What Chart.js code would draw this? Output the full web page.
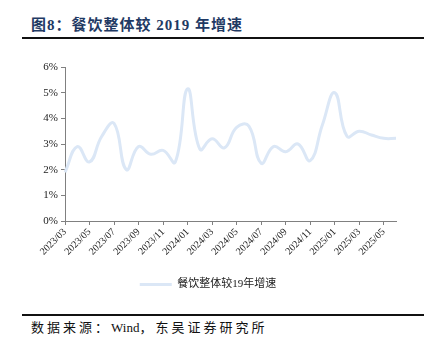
<!DOCTYPE html>
<html>
<head>
<meta charset="utf-8">
<script src="https://cdn.jsdelivr.net/npm/chart.js@4/dist/chart.umd.min.js"></script>
<style>
  body { margin: 0; background: #fff; width: 436px; height: 351px; position: relative; overflow: hidden; }
  #title { position: absolute; left: 31px; top: 13px; font: bold 15px "Liberation Serif", "Noto Sans CJK SC", serif; color: #1f3a64; letter-spacing: 1px; }
  .rule { position: absolute; left: 22px; width: 402px; height: 2px; background: #111; }
  #foot { position: absolute; left: 31px; top: 317px; font: 13px "Liberation Serif", "Noto Sans CJK SC", serif; color: #111; white-space: nowrap; }
  #foot .cjk { letter-spacing: 3px; }
  #box { position: absolute; left: 0; top: 50px; width: 436px; height: 250px; }
</style>
</head>
<body>
<div id="title">图8：餐饮整体较 2019 年增速</div>
<div class="rule" style="top:37px"></div>
<div id="box"><canvas id="chartLineCanvas"></canvas></div>
<div class="rule" style="top:314px"></div>
<div id="foot"><span class="cjk">数据来源：</span>Wind<span class="cjk">，东吴证券研究所</span></div>
<script>
// monthly categories 2023/03 - 2025/06
const months = [
    '2023/03', '2023/04', '2023/05', '2023/06', '2023/07', '2023/08', '2023/09',
    '2023/10', '2023/11', '2023/12', '2024/01', '2024/02', '2024/03', '2024/04',
    '2024/05', '2024/06', '2024/07', '2024/08', '2024/09', '2024/10', '2024/11',
    '2024/12', '2025/01', '2025/02', '2025/03', '2025/04', '2025/05', '2025/06'
];
// growth vs 2019, in %
const growthVs2019 = [
    1.9, 2.9, 2.3, 3.3, 3.8, 2.0, 2.9,
    2.6, 2.75, 2.3, 5.15, 2.8, 3.2, 2.85,
    3.65, 3.7, 2.25, 2.9, 2.7, 3.0, 2.35,
    3.75, 5.0, 3.3, 3.5, 3.35, 3.22, 3.22
];
const yTicks = [0, 1, 2, 3, 4, 5, 6];

document.addEventListener('DOMContentLoaded', function () {
    const ctx = document.getElementById('chartLineCanvas').getContext('2d');
    const axisFont = { family: '"Liberation Serif", "Times New Roman", serif', size: 11 };

    new Chart(ctx, {
        type: 'line',
        data: {
            labels: months,
            datasets: [{
                label: '餐饮整体较19年增速',
                data: growthVs2019,
                borderColor: '#dbe7f6',
                backgroundColor: '#dbe7f6',
                borderWidth: 3,
                pointRadius: 0,
                tension: 0.45,
            }],
        },
        options: {
            responsive: true,
            maintainAspectRatio: false,
            animation: false,
            layout: {
                padding: { left: 20, right: 40, top: 17, bottom: 0 }
            },
            scales: {
                x: {
                    offset: false,
                    afterFit: function (scale) { scale.height = 52; },
                    grid: { display: true, drawOnChartArea: false, drawTicks: true, tickLength: 4, color: '#808080' },
                    border: { color: '#808080', width: 1 },
                    ticks: {
                        autoSkip: false,
                        maxRotation: 45,
                        minRotation: 45,
                        padding: 1,
                        color: '#222',
                        font: { family: axisFont.family, size: 10 },
                        callback: function (value, index) {
                            return index % 2 === 0 ? months[index] : null;
                        }
                    }
                },
                y: {
                    min: 0,
                    max: 6,
                    afterFit: function (scale) { scale.width = 45; },
                    afterBuildTicks: function (scale) {
                        scale.ticks = yTicks.map(function (v) { return { value: v }; });
                    },
                    grid: { display: true, drawOnChartArea: false, drawTicks: true, tickLength: 4, color: '#808080' },
                    border: { color: '#808080', width: 1 },
                    ticks: {
                        color: '#222',
                        padding: 3,
                        font: axisFont,
                        callback: function (value) { return value + '%'; }
                    }
                }
            },
            plugins: {
                legend: {
                    position: 'bottom',
                    labels: {
                        usePointStyle: true,
                        pointStyle: 'line',
                        pointStyleWidth: 32,
                        color: '#222',
                        padding: 6,
                        font: { family: '"Liberation Serif", "Noto Sans CJK SC", serif', size: 11 }
                    }
                },
                tooltip: { enabled: false }
            },
        },
    });
});
</script>
</body>
</html>
